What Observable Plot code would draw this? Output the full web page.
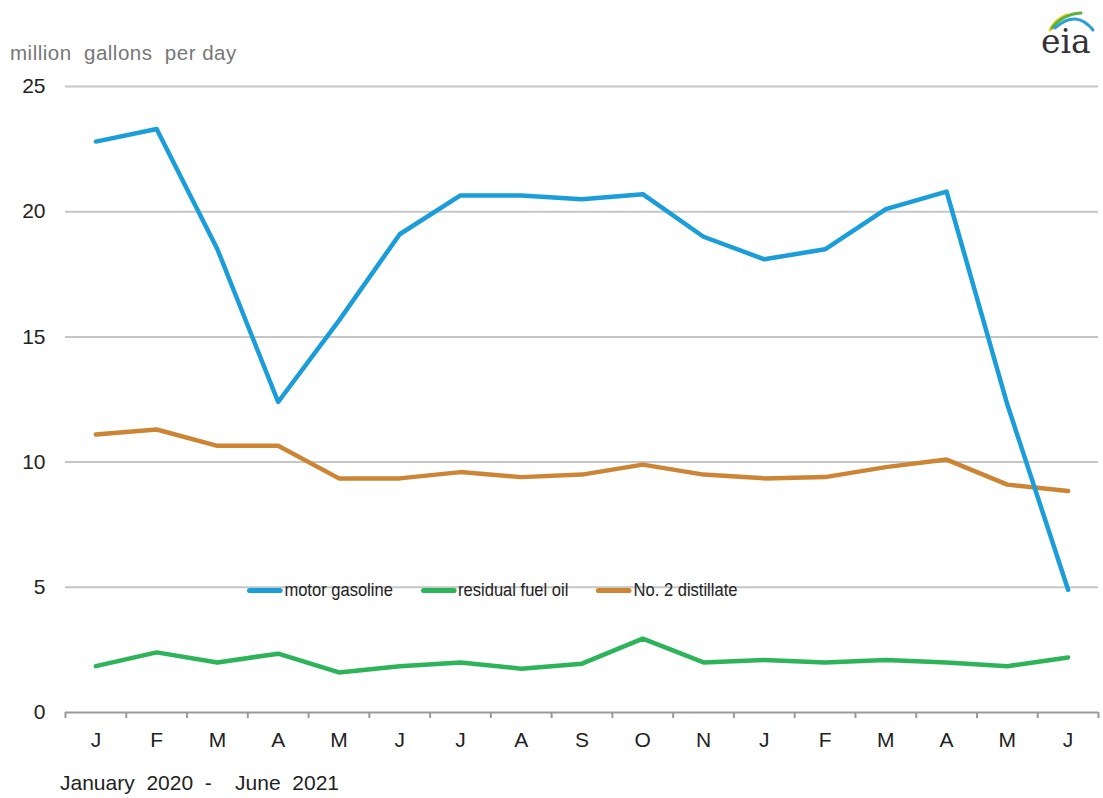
<!DOCTYPE html>
<html><head><meta charset="utf-8">
<script src="https://cdn.jsdelivr.net/npm/d3@7"></script>
<script src="https://cdn.jsdelivr.net/npm/@observablehq/plot@0.6"></script>
<style>
body{margin:0;background:#fff;font-family:"Liberation Sans",Arial,sans-serif;}
#wrap{position:relative;width:1103px;height:798px;overflow:hidden;background:#fff}
#ytitle{position:absolute;left:10px;top:41px;font-size:20.5px;letter-spacing:0.5px;color:#777;white-space:pre;}
#caption{position:absolute;left:60px;top:771px;font-size:21px;color:#222;white-space:pre;}
#legend{position:absolute;left:247px;top:579px;display:flex;align-items:center;font-size:19px;line-height:22px;color:#222;transform:scaleX(0.87);transform-origin:0 50%;}
.item{display:flex;align-items:center;margin-right:32px;}
.sw{width:41px;height:5px;border-radius:2.5px;margin-right:2px;}
#logo{position:absolute;left:1020px;top:5px;}
</style></head><body>
<div id="wrap">
  <div id="ytitle">million  gallons  per day</div>
  <div id="caption">January  2020  -    June  2021</div>
  <div id="legend"></div>
  <svg id="logo" width="83" height="60" viewBox="0 0 83 60">
    <path d="M30 25 Q36 14 47 10" fill="none" stroke="#f2c81e" stroke-width="3" stroke-linecap="round"/>
    <path d="M32 23 Q43 9 61 8" fill="none" stroke="#58b23c" stroke-width="3" stroke-linecap="round"/>
    <path d="M35 23 Q56 4 73 25" fill="none" stroke="#2a9fd8" stroke-width="3" stroke-linecap="round"/>
    <text x="21" y="48" font-family="'DejaVu Serif','Liberation Serif',serif" font-size="33" fill="#333">eia</text>
  </svg>
</div>
<script>
const months = ["J","F","M","A","M","J","J","A","S","O","N","J","F","M","A","M","J"];
const motorGasoline   = [22.8, 23.3, 18.5, 12.4, 15.65, 19.1, 20.65, 20.65, 20.5, 20.7, 19.0, 18.1, 18.5, 20.1, 20.8, 12.3, 4.9];
const residualFuelOil = [1.85, 2.4, 2.0, 2.35, 1.6, 1.85, 2.0, 1.75, 1.95, 2.95, 2.0, 2.1, 2.0, 2.1, 2.0, 1.85, 2.2];
const no2Distillate   = [11.1, 11.3, 10.65, 10.65, 9.35, 9.35, 9.6, 9.4, 9.5, 9.9, 9.5, 9.35, 9.4, 9.8, 10.1, 9.1, 8.85];
const seriesNames  = ["motor gasoline", "residual fuel oil", "No. 2 distillate"];
const seriesColors = ["#1b9dd9", "#2db35a", "#cc8535"];
const yTicks = [0, 5, 10, 15, 20, 25];

const toRows = (arr, name) => arr.map((v, i) => ({i, v, series: name}));
const idx = d3.range(months.length);
const bounds = d3.range(months.length + 1).map(k => k - 0.5);

const chart = Plot.plot({
  width: 1103, height: 798,
  marginTop: 86, marginBottom: 86, marginLeft: 65, marginRight: 5,
  style: {fontFamily: "'Liberation Sans', Arial, sans-serif", fontSize: "21px", color: "#222", background: "transparent"},
  x: {domain: [-0.5, months.length - 0.5]},
  y: {domain: [0, 25]},
  color: {domain: seriesNames, range: seriesColors},
  marks: [
    Plot.ruleY(yTicks.filter(d => d > 0), {stroke: "#c6c6c6", strokeWidth: 2}),
    Plot.axisY({ticks: yTicks, tickSize: 0, tickPadding: 20, label: null}),
    Plot.axisX({ticks: bounds, tickSize: 6, tickFormat: () => "", stroke: "#999", strokeWidth: 2, strokeOpacity: 1, label: null}),
    Plot.axisX({ticks: idx, tickSize: 0, tickPadding: 20, tickFormat: i => months[i], label: null}),
    Plot.ruleY([0], {stroke: "#999", strokeWidth: 2}),
    Plot.line(toRows(residualFuelOil, seriesNames[1]), {x: "i", y: "v", stroke: "series", strokeWidth: 4.5}),
    Plot.line(toRows(no2Distillate, seriesNames[2]), {x: "i", y: "v", stroke: "series", strokeWidth: 4.5}),
    Plot.line(toRows(motorGasoline, seriesNames[0]), {x: "i", y: "v", stroke: "series", strokeWidth: 4.5})
  ]
});
chart.style.position = "absolute";
chart.style.left = "0px";
chart.style.top = "0px";
const wrap = document.getElementById("wrap");
wrap.insertBefore(chart, wrap.firstChild);

const legend = document.getElementById("legend");
seriesNames.forEach((n, k) => {
  const it = document.createElement("div");
  it.className = "item";
  const sw = document.createElement("div");
  sw.className = "sw";
  sw.style.background = seriesColors[k];
  const t = document.createElement("span");
  t.textContent = n;
  it.appendChild(sw); it.appendChild(t);
  legend.appendChild(it);
});
</script>
</body></html>
